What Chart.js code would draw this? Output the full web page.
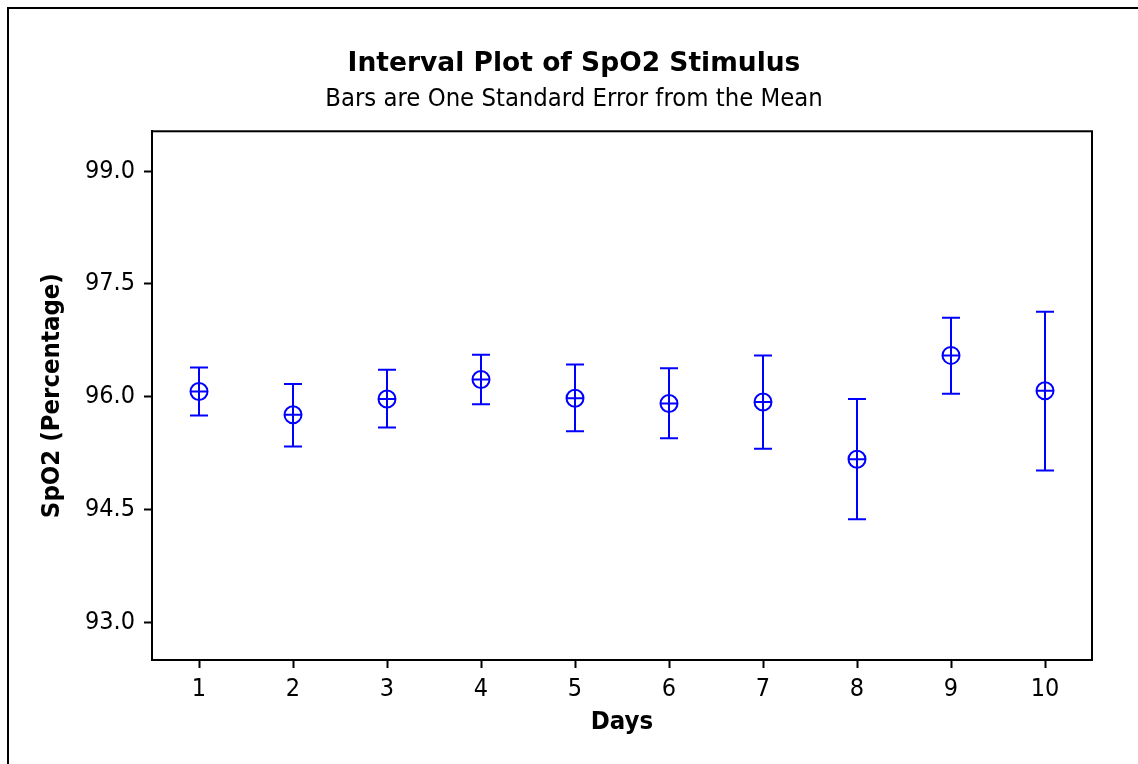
<!DOCTYPE html>
<html>
<head>
<meta charset="utf-8">
<script src="https://cdn.jsdelivr.net/npm/chart.js@4.4.0/dist/chart.umd.min.js"></script>
<style>
  body { margin: 0; background: #fff; }
  #wrap { position: relative; width: 1138px; height: 764px; overflow: hidden; }
  #frame { position: absolute; left: 7px; top: 7px; width: 1200px; height: 800px; border: 2px solid #000; box-sizing: border-box; }
  canvas { position: absolute; left: 0; top: 0; }
</style>
</head>
<body>
<div id="wrap">
  <div id="frame"></div>
  <canvas id="chartSpo2" width="1138" height="764"></canvas>
</div>
<script>
// days on the x axis
const days = [1, 2, 3, 4, 5, 6, 7, 8, 9, 10];
// mean SpO2 for each day
const means = [96.07, 95.76, 95.97, 96.23, 95.98, 95.91, 95.93, 95.17, 96.55, 96.08];
// mean +/- one standard error
const upper = [96.39, 96.17, 96.36, 96.56, 96.43, 96.38, 96.55, 95.97, 97.05, 97.13];
const lower = [95.75, 95.34, 95.59, 95.90, 95.54, 95.45, 95.31, 94.37, 96.04, 95.02];
// y axis tick values
const yTicks = [93.0, 94.5, 96.0, 97.5, 99.0];

const blue = '#0000ff';
const fontFam = "'DejaVu Sans Condensed', 'DejaVu Sans', sans-serif";
const titleFam = "'DejaVu Sans', sans-serif";

const points = days.map((d, i) => ({ x: d, y: means[i] }));

// vertical bar with caps for every day
const errorBars = {
  id: 'errorBars',
  beforeDatasetsDraw(chart) {
    const ctx = chart.ctx;
    const xs = chart.scales.x;
    const ys = chart.scales.y;
    ctx.save();
    ctx.strokeStyle = blue;
    ctx.lineWidth = 2;
    days.forEach((d, i) => {
      const x = xs.getPixelForValue(d);
      const yHi = ys.getPixelForValue(upper[i]);
      const yLo = ys.getPixelForValue(lower[i]);
      ctx.beginPath();
      ctx.moveTo(x, yHi); ctx.lineTo(x, yLo);
      ctx.moveTo(x - 9, yHi); ctx.lineTo(x + 9, yHi);
      ctx.moveTo(x - 9, yLo); ctx.lineTo(x + 9, yLo);
      ctx.stroke();
    });
    ctx.restore();
  }
};

// box round the plot area
const plotFrame = {
  id: 'plotFrame',
  afterDraw(chart) {
    const a = chart.chartArea;
    const ctx = chart.ctx;
    ctx.save();
    ctx.strokeStyle = '#000';
    ctx.lineWidth = 2;
    ctx.strokeRect(a.left, a.top, a.right - a.left, a.bottom - a.top);
    ctx.restore();
  }
};

const chart = new Chart(document.getElementById('chartSpo2'), {
  type: 'scatter',
  data: {
    datasets: [{
      label: 'Mean',
      data: points,
      pointStyle: 'circle',
      pointRadius: 8.5,
      pointHoverRadius: 8.5,
      borderColor: blue,
      backgroundColor: 'rgba(0,0,0,0)',
      borderWidth: 2
    }, {
      label: 'Mean cross',
      data: points,
      pointStyle: 'cross',
      pointRadius: 8.5,
      pointHoverRadius: 8.5,
      borderColor: blue,
      borderWidth: 2
    }]
  },
  options: {
    responsive: false,
    animation: false,
    layout: { padding: { left: 10, right: 0, top: 0, bottom: 0 } },
    plugins: {
      legend: { display: false },
      tooltip: { enabled: false },
      title: {
        display: true,
        text: 'Interval Plot of SpO2 Stimulus',
        color: '#000',
        font: { family: titleFam, size: 26.5, weight: 'bold' },
        padding: { top: 48, bottom: 4 }
      },
      subtitle: {
        display: true,
        text: 'Bars are One Standard Error from the Mean',
        color: '#000',
        font: { family: fontFam, size: 25.4 },
        padding: { top: 0, bottom: 17 }
      }
    },
    scales: {
      x: {
        type: 'linear',
        min: 0.5,
        max: 10.5,
        afterBuildTicks(scale) { scale.ticks = days.map(d => ({ value: d })); },
        afterFit(scale) { scale.height = 104; },
        grid: { drawOnChartArea: false, drawTicks: true, tickLength: 8, tickWidth: 2, tickColor: '#000' },
        border: { display: true, color: '#000', width: 2 },
        ticks: { color: '#000', font: { family: fontFam, size: 25 }, padding: 6 },
        title: {
          display: true,
          text: 'Days',
          color: '#000',
          font: { family: fontFam, size: 25.5, weight: 'bold' },
          padding: { top: 0, bottom: 26 }
        }
      },
      y: {
        min: 92.5,
        max: 99.53,
        afterBuildTicks(scale) { scale.ticks = yTicks.map(v => ({ value: v })); },
        afterFit(scale) { scale.width = 142; },
        grid: { drawOnChartArea: false, drawTicks: true, tickLength: 8, tickWidth: 2, tickColor: '#000' },
        border: { display: true, color: '#000', width: 2 },
        ticks: {
          color: '#000',
          font: { family: fontFam, size: 25 },
          padding: 9,
          callback: v => v.toFixed(1)
        },
        title: {
          display: true,
          text: 'SpO2 (Percentage)',
          color: '#000',
          font: { family: fontFam, size: 25.5, weight: 'bold' },
          padding: { top: 27, bottom: 0 }
        }
      },
      // empty margin on the right of the plot box
      yRight: {
        position: 'right',
        afterFit(scale) { scale.width = 46; },
        grid: { display: false },
        border: { display: false },
        ticks: { display: false }
      }
    }
  },
  plugins: [errorBars, plotFrame]
});
</script>
</body>
</html>
